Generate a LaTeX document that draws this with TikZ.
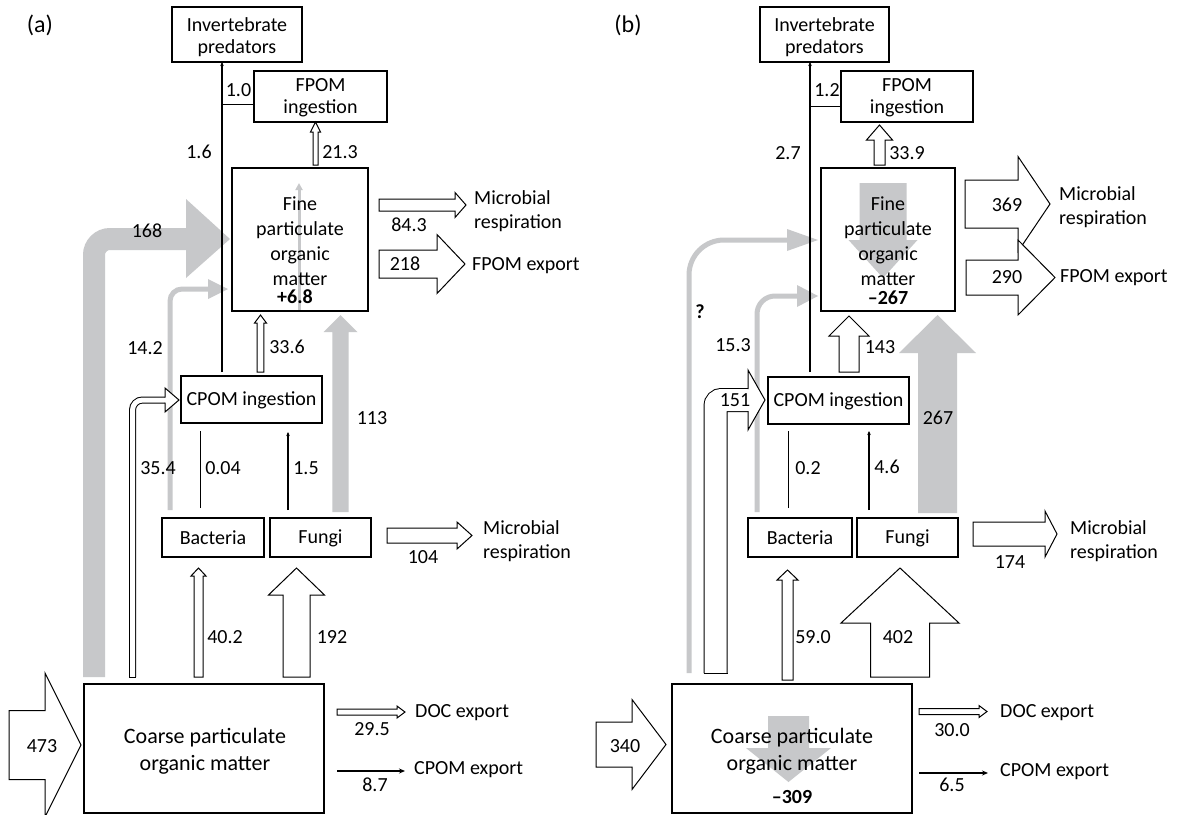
\documentclass[tikz,border=0pt]{standalone}
\usepackage{fontspec}
\setmainfont{Carlito}
\usetikzlibrary{arrows.meta}
\definecolor{grayc}{RGB}{199,200,202}
% vertical block arrow: style, x, y start, y tip, y head base, shaft half width, head half width
\newcommand\vblock[7]{\path[#1] ({#2-#6},#3) -- ({#2-#6},#5) -- ({#2-#7},#5) -- (#2,#4) -- ({#2+#7},#5) -- ({#2+#6},#5) -- ({#2+#6},#3) -- cycle;}
% horizontal block arrow: style, y, x start, x tip, x head base, shaft half width, head half width
\newcommand\hblock[7]{\path[#1] (#3,{#2-#6}) -- (#5,{#2-#6}) -- (#5,{#2-#7}) -- (#4,#2) -- (#5,{#2+#7}) -- (#5,{#2+#6}) -- (#3,{#2+#6}) -- cycle;}
\begin{document}
\begin{tikzpicture}[x=1pt,y=-1pt,
  wa/.style={draw=black,fill=white,line width=1pt,line join=miter},
  ga/.style={fill=grayc},
  box/.style={draw,line width=1.1pt,inner sep=0pt},
  txt/.style={inner sep=0pt,font=\fontsize{20}{24}\selectfont,align=center},
  ln/.style={line width=1.3pt},
  smalltip/.style={-{Stealth[length=4pt,width=3.5pt]}},
  dbl/.style={draw=black,double=white,line width=1pt}]
\clip (0,0) rectangle (1191,814);
\fill[white] (0,0) rectangle (1191,814);

% ================= panel (a) =================
% gray arrows
\draw[grayc,line width=22pt,rounded corners=16pt] (94,677) -- (94,239) -- (187,239);
\fill[grayc] (186,199) -- (230,239) -- (186,278) -- cycle;
\draw[grayc,line width=5pt,rounded corners=12pt] (170,510) -- (170,289) -- (209,289);
\fill[grayc] (208,279) -- (228,289) -- (208,299) -- cycle;
\vblock{ga}{340.5}{512}{315}{332}{8.2}{17}
\draw[grayc,line width=3pt,-{Triangle[length=7pt,width=7pt]}] (299,311) -- (299,183);

% boxes
\node[box,minimum width=130pt,minimum height=55pt] (preda) at (237,34.5) {};
\node[box,minimum width=133pt,minimum height=51pt] (fpomia) at (320.5,96.5) {};
\node[box,minimum width=136pt,minimum height=143pt] (fpoma) at (300,239.5) {};
\node[box,minimum width=141pt,minimum height=47pt] (cpomia) at (251.5,399.5) {};
\node[box,minimum width=102pt,minimum height=39pt] (bacta) at (213,537.5) {};
\node[box,minimum width=101pt,minimum height=39pt] (funga) at (320.5,537.5) {};
\node[box,minimum width=240pt,minimum height=129pt] (cpoma) at (204,748.5) {};

% black lines
\draw[ln,smalltip] (222,372) -- (222,62);
\draw[line width=1pt] (222,104.3) -- (fpomia.west |- 0,104.3);
\draw[line width=1pt] (200,508) -- (200,431);
\draw[line width=1.2pt,smalltip] (288,510) -- (288,432);
\draw[line width=1.5pt,-{Stealth[length=6pt,width=5pt]}] (337,771) -- (405,771);

% white arrows
\vblock{wa}{315.5}{165}{122}{132}{2.5}{5}
\vblock{wa}{260.5}{372}{315}{323}{3.3}{6}
\vblock{wa}{198.5}{677}{568}{576}{4.5}{7.5}
\vblock{wa}{296.5}{677}{568}{595}{13.5}{28}
\hblock{wa}{205}{379}{466}{455}{6}{12.5}
\hblock{wa}{264}{379}{465}{437}{14}{29.5}
\hblock{wa}{535.5}{387}{472}{457}{7.5}{13.5}
\hblock{wa}{712}{337}{405}{397}{3}{6}
\hblock{wa}{745}{9}{81}{45}{34.5}{72}
\draw[dbl,double distance=5pt,rounded corners=10pt] (132.5,677) -- (132.5,400) -- (165,400);
\draw[line width=1pt] (129,677) -- (136,677);
\path[wa] (165,397.5) -- (165,388) -- (179,400) -- (165,412) -- (165,402.5);

% texts
\node[txt,font=\fontsize{24}{28}\selectfont] (la) at (40,25) {(a)};
\node[txt,font=\fontsize{20}{22}\selectfont] (tpreda) at (237,37) {Invertebrate\\predators};
\node[txt,font=\fontsize{20}{22}\selectfont] (tfpomia) at (320.5,98) {FPOM\\ingestion};
\node[txt,font=\fontsize{20}{25}\selectfont] (tfpoma) at (300,241) {Fine\\particulate\\organic\\matter};
\node[txt,font=\fontsize{20}{24}\bfseries] (bfpoma) at (295,297) {+6.8};
\node[txt] (tcpomia) at (251.5,400) {CPOM ingestion};
\node[txt] (tbacta) at (213,538) {Bacteria};
\node[txt] (tfunga) at (320.5,538) {Fungi};
\node[txt,font=\fontsize{22}{27}\selectfont] (tcpoma) at (205,751.5) {Coarse particulate\\organic matter};
\node[txt] (a1) at (238.5,90) {1.0};
\node[txt] (a2) at (199,152) {1.6};
\node[txt] (a3) at (340,152) {21.3};
\node[txt] (a4) at (147,231) {168};
\node[txt] (a5) at (409,225) {84.3};
\node[txt] (a6) at (405,264) {218};
\node[txt] (a7) at (145,348) {14.2};
\node[txt] (a8) at (287,347) {33.6};
\node[txt] (a9) at (372,418) {113};
\node[txt] (a10) at (158,468) {35.4};
\node[txt] (a11) at (223,468) {0.04};
\node[txt] (a12) at (306,468) {1.5};
\node[txt] (a13) at (423,557) {104};
\node[txt] (a14) at (225,637) {40.2};
\node[txt] (a15) at (332,637) {192};
\node[txt] (a16) at (42,746) {473};
\node[txt] (a17) at (372,729) {29.5};
\node[txt] (a18) at (375,785) {8.7};
\node[txt,anchor=west,align=left] (a19) at (474,211) {Microbial\\respiration};
\node[txt,anchor=west] (a20) at (472,266) {FPOM export};
\node[txt,anchor=west,align=left] (a21) at (483,541) {Microbial\\respiration};
\node[txt,anchor=west] (a22) at (415,713) {DOC export};
\node[txt,anchor=west] (a23) at (414,770) {CPOM export};

% ================= panel (b) =================
% gray arrows
\draw[grayc,line width=5pt,rounded corners=35pt] (689,673) -- (689,240) -- (788,240);
\fill[grayc] (787,229) -- (818,240) -- (787,251) -- cycle;
\draw[grayc,line width=5pt,rounded corners=18pt] (757,512) -- (757,296) -- (798,296);
\fill[grayc] (797,285) -- (818,296) -- (797,307) -- cycle;
\vblock{ga}{937.5}{513}{315}{353}{19.5}{38.5}
\vblock{ga}{883}{183}{278}{240}{23.5}{34.5}
\vblock{ga}{788.5}{716}{782}{748}{20.5}{42.5}

% boxes
\node[box,minimum width=129pt,minimum height=55pt] (predb) at (824.5,34.5) {};
\node[box,minimum width=132pt,minimum height=51pt] (fpomib) at (907,96.5) {};
\node[box,minimum width=134pt,minimum height=143pt] (fpomb) at (888,239.5) {};
\node[box,minimum width=141pt,minimum height=47pt] (cpomib) at (838.5,400.5) {};
\node[box,minimum width=104pt,minimum height=39pt] (bactb) at (800,537.5) {};
\node[box,minimum width=101pt,minimum height=39pt] (fungb) at (907.5,537.5) {};
\node[box,minimum width=240pt,minimum height=129pt] (cpomb) at (792,748.5) {};

% black lines
\draw[ln,smalltip] (810,372) -- (810,62);
\draw[line width=1pt] (810,106.7) -- (fpomib.west |- 0,106.7);
\draw[line width=1pt] (788,508) -- (788,431);
\draw[line width=1.2pt,smalltip] (869,510) -- (869,431);
\draw[line width=1.5pt,-{Stealth[length=6pt,width=5pt]}] (919,773) -- (988,773);

% white arrows
\vblock{wa}{879.5}{165}{125}{140}{5.5}{13}
\vblock{wa}{849}{372}{316}{336}{10}{20}
\vblock{wa}{787.5}{680}{570}{580}{5.5}{10.5}
\vblock{wa}{900}{677}{568}{623}{29.5}{59}
\hblock{wa}{204}{965}{1050}{1018}{24}{47.5}
\hblock{wa}{277.5}{966}{1055}{1018}{17.5}{37.5}
\hblock{wa}{534}{973}{1057}{1045}{12}{23}
\hblock{wa}{711.5}{919}{987}{979}{3}{6}
\hblock{wa}{744.5}{596}{666}{632}{22.5}{45}
\draw[dbl,double distance=22pt,rounded corners=6pt] (715.5,673) -- (715.5,400) -- (748,400);
\draw[line width=1pt] (703.5,673) -- (727.5,673);
\path[wa] (748,389) -- (748,370) -- (765,400) -- (748,430) -- (748,411);

% texts
\node[txt,font=\fontsize{24}{28}\selectfont] (lb) at (628,25) {(b)};
\node[txt,font=\fontsize{20}{22}\selectfont] (tpredb) at (824.5,37) {Invertebrate\\predators};
\node[txt,font=\fontsize{20}{22}\selectfont] (tfpomib) at (907,98) {FPOM\\ingestion};
\node[txt,font=\fontsize{20}{25}\selectfont] (tfpomb) at (888,241) {Fine\\particulate\\organic\\matter};
\node[txt,font=\fontsize{20}{24}\bfseries] (bfpomb) at (888,298) {–267};
\node[txt] (tcpomib) at (838.5,401) {CPOM ingestion};
\node[txt] (tbactb) at (800,538) {Bacteria};
\node[txt] (tfungb) at (907.5,538) {Fungi};
\node[txt,font=\fontsize{22}{27}\selectfont] (tcpomb) at (792,751.5) {Coarse particulate\\organic matter};
\node[txt,font=\fontsize{20}{24}\bfseries] (bcpomb) at (792,797) {–309};
\node[txt] (b1) at (827,90) {1.2};
\node[txt] (b2) at (788,153) {2.7};
\node[txt] (b3) at (907,153) {33.9};
\node[txt] (b4) at (1007,205) {369};
\node[txt] (b5) at (1007,277) {290};
\node[txt,font=\fontsize{20}{24}\bfseries] (b6) at (700,312) {?};
\node[txt] (b7) at (733,345) {15.3};
\node[txt] (b8) at (880,347) {143};
\node[txt] (b9) at (735,400) {151};
\node[txt] (b10) at (938,418) {267};
\node[txt] (b11) at (808,468) {0.2};
\node[txt] (b12) at (887,467) {4.6};
\node[txt] (b13) at (1010,562) {174};
\node[txt] (b14) at (813,637) {59.0};
\node[txt] (b15) at (898,637) {402};
\node[txt] (b16) at (625,746) {340};
\node[txt] (b17) at (952,730) {30.0};
\node[txt] (b18) at (952,785) {6.5};
\node[txt,anchor=west,align=left] (b19) at (1059,207.5) {Microbial\\respiration};
\node[txt,anchor=west] (b20) at (1060,278) {FPOM export};
\node[txt,anchor=west,align=left] (b21) at (1070,541.5) {Microbial\\respiration};
\node[txt,anchor=west] (b22) at (1000,713) {DOC export};
\node[txt,anchor=west] (b23) at (1000,772) {CPOM export};
\end{tikzpicture}
\end{document}
